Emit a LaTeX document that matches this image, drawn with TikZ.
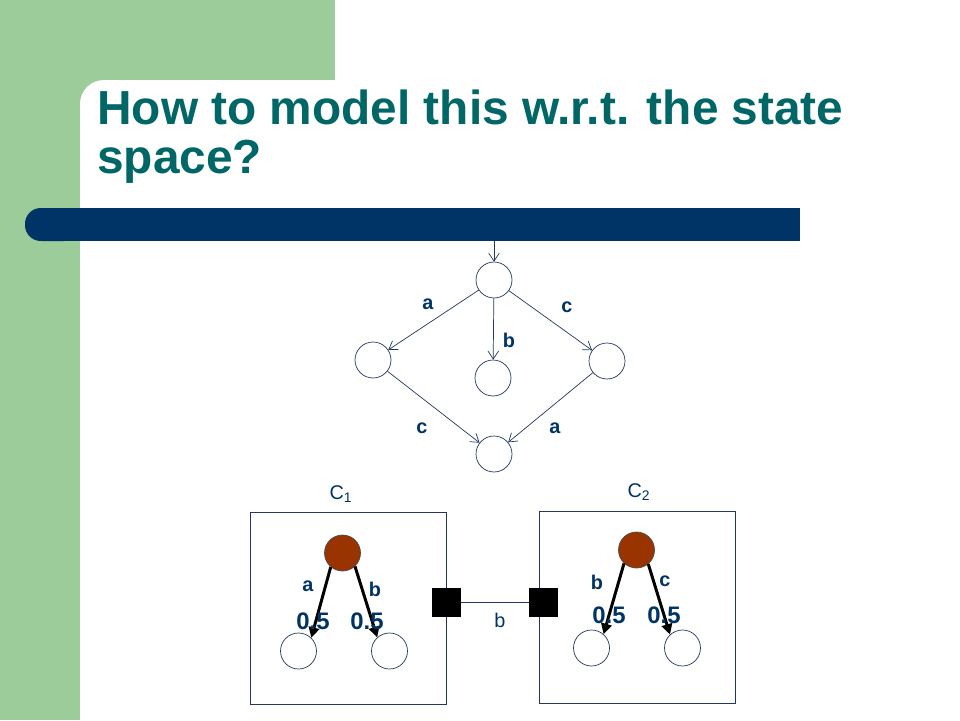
\documentclass[tikz,border=0pt]{standalone}
\usepackage{fontspec}
\setmainfont{Liberation Sans}
\usetikzlibrary{arrows.meta}
\definecolor{slidegreen}{RGB}{155,204,153}
\definecolor{barblue}{RGB}{0,51,102}
\definecolor{titleteal}{RGB}{0,102,102}
\definecolor{linenavy}{RGB}{35,55,95}
\definecolor{statebrown}{RGB}{153,51,0}
\begin{document}
\begin{tikzpicture}[x=0.02cm,y=-0.02cm,
  state/.style={circle,draw=linenavy,fill=white,minimum size=0.72cm,inner sep=0pt},
  hot/.style={circle,draw=black!70,fill=statebrown,minimum size=0.72cm,inner sep=0pt},
  port/.style={rectangle,fill=black,minimum size=0.58cm,inner sep=0pt},
  comp/.style={rectangle,draw=linenavy,minimum width=3.92cm,minimum height=3.84cm,inner sep=0pt},
  trans/.style={draw=linenavy,-{Straight Barb[length=4.5pt,width=6pt]}},
  prob/.style={draw=black,line width=1.7pt,-{Triangle[length=6pt,width=6pt]}},
  lbl/.style={font=\bfseries\fontsize{11.3}{13}\selectfont,text=barblue},
  half/.style={font=\bfseries\fontsize{13.6}{15}\selectfont,text=barblue},
  plain/.style={font=\fontsize{11.3}{13}\selectfont,text=barblue},
  headline/.style={anchor=base west,inner sep=0pt,text=titleteal,font=\bfseries\fontsize{27.2}{30}\selectfont}]

\useasboundingbox (0,0) rectangle (960,720);

\fill[slidegreen] (0,0) rectangle (335,80);
\fill[slidegreen] (0,0) rectangle (80,720);
\fill[slidegreen] (80,80) rectangle (104,104);
\fill[white] (104,104) circle (24);

\fill[barblue] (60,208) rectangle (800,241);
\fill[barblue,rounded corners=9pt] (25,208) rectangle (80,241);

\node[headline] (title1) at (97,124) {How to model this w.r.t. the state};
\node[headline] (title2) at (97,173) {space?};

\coordinate (init) at (494,241);
\node[state] (s0) at (494,280) {};
\node[state] (s1) at (373,360) {};
\node[state] (s2) at (493,378) {};
\node[state] (s3) at (607,361) {};
\node[state] (s4) at (494,454) {};

\draw[trans] (init) -- (s0);
\draw[trans] (s0) -- (s1);
\draw[trans] (s0) -- (s2);
\draw[trans] (s0) -- (s3);
\draw[trans] (s1) -- (s4);
\draw[trans] (s3) -- (s4);

\node[lbl] (la) at (428,304) {a};
\node[lbl] (lc) at (567,307) {c};
\node[lbl] (lb) at (509,340) {b};
\node[lbl] (lc2) at (422,428) {c};
\node[lbl] (la2) at (555,428) {a};

\node[comp] (c1) at (348,608) {};
\node[comp] (c2) at (637.5,607.5) {};
\node[plain] (c1name) at (341,494) {C\textsubscript{1}};
\node[plain] (c2name) at (639,492) {C\textsubscript{2}};

\node[port] (p1) at (446.5,602) {};
\node[port] (p2) at (543.5,602) {};
\draw[linenavy] (p1) -- (p2);
\node[plain] (sync) at (500,620) {b};

\node[hot] (h1) at (342.5,553) {};
\node[state] (q1) at (298.5,651) {};
\node[state] (q2) at (389.5,651) {};
\draw[prob] (h1.230) -- (q1.46);
\draw[prob] (h1.313) -- (q2.132);
\node[lbl] (a1) at (308,586) {a};
\node[lbl] (b1) at (375,589) {b};
\node[half] (h1l) at (313,621) {0.5};
\node[half] (h1r) at (367,621) {0.5};

\node[hot] (h2) at (636.5,550) {};
\node[state] (q3) at (591.5,648) {};
\node[state] (q4) at (682.5,648) {};
\draw[prob] (h2.227) -- (q3.49);
\draw[prob] (h2.310) -- (q4.133);
\node[lbl] (b2) at (597,582) {b};
\node[lbl] (c2l) at (665,581) {c};
\node[half] (h2l) at (609,615) {0.5};
\node[half] (h2r) at (664,615) {0.5};

\end{tikzpicture}
\end{document}
